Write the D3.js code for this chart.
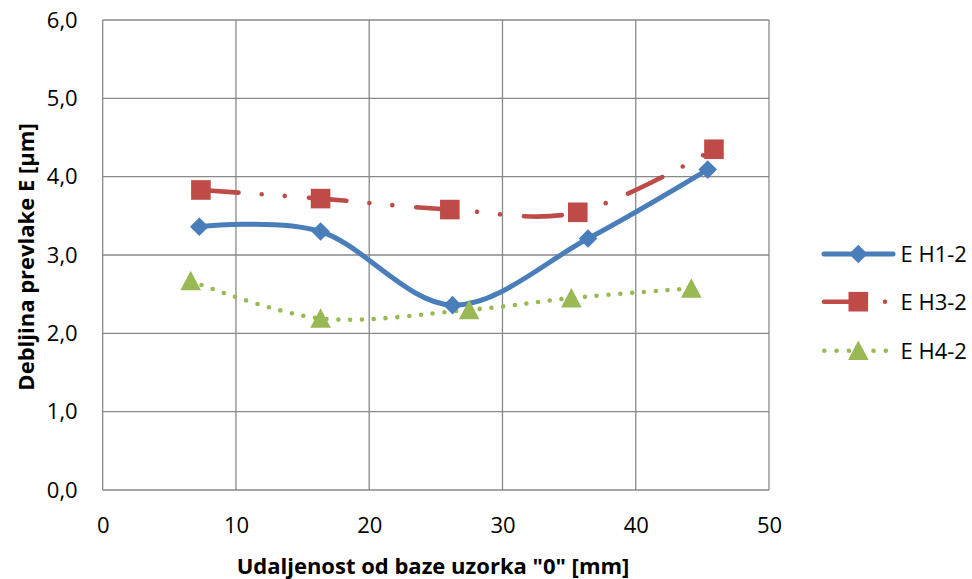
<!DOCTYPE html>
<html>
<head>
<meta charset="utf-8">
<script src="https://cdn.jsdelivr.net/npm/d3@7"></script>
<style>
  html, body { margin: 0; padding: 0; background: #fff; }
  svg { display: block; font-family: "Open Sans", Lato, sans-serif; }
</style>
</head>
<body>
<svg id="chart" width="972" height="579"></svg>
<script>
// ---- data ----
const seriesNames = ["E H1-2", "E H3-2", "E H4-2"];
const h1x = [7.25, 16.35, 26.25, 36.42, 45.4];
const h1y = [3.36, 3.30, 2.36, 3.21, 4.09];
const h3x = [7.37, 16.35, 26.05, 35.65, 45.87];
const h3y = [3.83, 3.72, 3.58, 3.545, 4.35];
const h4x = [6.6, 16.35, 27.5, 35.17, 44.17];
const h4y = [2.67, 2.19, 2.30, 2.45, 2.575];
const xTicks = [0, 10, 20, 30, 40, 50];
const yTicks = [0, 1, 2, 3, 4, 5, 6];
const xTitle = 'Udaljenost od baze uzorka "0" [mm]';
const yTitle = 'Debljina prevlake E [µm]';

const colors = ["#4A7EBB", "#BE4B48", "#98B954"];
const FONT = "'Open Sans', Lato, sans-serif";
const FS = 22;

const svg = d3.select("#chart");
const L = 102.7, R = 769, T = 20, B = 490;
const x = d3.scaleLinear().domain([0, 50]).range([L, R]);
const y = d3.scaleLinear().domain([0, 6]).range([B, T]);

const gridColor = "#898989";

// gridlines
svg.append("g").selectAll("line").data(xTicks).join("line")
  .attr("x1", d => x(d)).attr("x2", d => x(d))
  .attr("y1", T).attr("y2", B)
  .attr("stroke", gridColor).attr("stroke-width", 1.3);
svg.append("g").selectAll("line").data(yTicks).join("line")
  .attr("x1", L).attr("x2", R)
  .attr("y1", d => y(d)).attr("y2", d => y(d))
  .attr("stroke", gridColor).attr("stroke-width", 1.3);

// axes (labels only)
const fmt = d => d3.format(".1f")(d).replace(".", ",");
const xAxis = svg.append("g").attr("transform", `translate(0,${B})`)
  .call(d3.axisBottom(x).tickValues(xTicks).tickSize(0).tickPadding(27).tickFormat(d3.format("d")));
const yAxis = svg.append("g").attr("transform", `translate(${L},0)`)
  .call(d3.axisLeft(y).tickValues(yTicks).tickSize(0).tickPadding(25).tickFormat(fmt));
[xAxis, yAxis].forEach(a => {
  a.select(".domain").remove();
  a.selectAll("text").attr("font-size", FS).attr("fill", "#000").attr("font-family", FONT);
});

// titles
svg.append("text").attr("x", 433).attr("y", 574)
  .attr("text-anchor", "middle").attr("font-size", FS).attr("font-weight", "bold")
  .text(xTitle);
svg.append("text").attr("transform", "translate(34,257) rotate(-90)")
  .attr("text-anchor", "middle").attr("font-size", FS).attr("font-weight", "bold")
  .text(yTitle);

// series
const series = [
  { xs: h1x, ys: h1y, color: colors[0], dash: null, marker: "diamond" },
  { xs: h3x, ys: h3y, color: colors[1], dash: "38 23 0 23 0 24", marker: "square" },
  { xs: h4x, ys: h4y, color: colors[2], dash: "0 11.8", marker: "triangle" }
];

const line = d3.line().x(d => x(d[0])).y(d => y(d[1])).curve(d3.curveCatmullRom.alpha(0));

function drawMarker(g, type, cx, cy, color) {
  if (type === "diamond") {
    const s = 9.3;
    g.append("path").attr("d", `M${cx},${cy - s}L${cx + s},${cy}L${cx},${cy + s}L${cx - s},${cy}Z`).attr("fill", color);
  } else if (type === "square") {
    const s = 9.8;
    g.append("rect").attr("x", cx - s).attr("y", cy - s).attr("width", 2 * s).attr("height", 2 * s).attr("fill", color);
  } else {
    const w = 10.3, h = 19.5;
    g.append("path").attr("d", `M${cx},${cy - h * 0.52}L${cx + w},${cy + h * 0.48}L${cx - w},${cy + h * 0.48}Z`).attr("fill", color);
  }
}

series.forEach(s => {
  const pts = s.xs.map((v, i) => [v, s.ys[i]]);
  svg.append("path").datum(pts).attr("d", line)
    .attr("fill", "none").attr("stroke", s.color).attr("stroke-width", s.marker === "diamond" ? 5 : 4.6)
    .attr("stroke-linecap", "round").attr("stroke-dasharray", s.dash);
});
series.forEach(s => {
  const g = svg.append("g");
  s.xs.forEach((v, i) => drawMarker(g, s.marker, x(v), y(s.ys[i]), s.color));
});

// legend
const legY = [254, 301.7, 350.7];
series.forEach((s, i) => {
  const g = svg.append("g");
  let x1 = 824, x2 = 893;
  if (s.marker === "triangle") { x1 = 824.3; x2 = 886; }
  g.append("line").attr("x1", x1).attr("x2", x2).attr("y1", legY[i]).attr("y2", legY[i])
    .attr("stroke", s.color).attr("stroke-width", s.marker === "diamond" ? 5 : 4.6)
    .attr("stroke-linecap", "round")
    .attr("stroke-dasharray", s.marker === "triangle" ? "0 12.3" : s.dash);
  drawMarker(g, s.marker, 858.3, legY[i], s.color);
  g.append("text").attr("x", 900.5).attr("y", legY[i]).attr("dy", "0.36em")
    .attr("font-size", FS).attr("fill", "#000").attr("font-family", FONT).text(seriesNames[i]);
});
</script>
</body>
</html>
